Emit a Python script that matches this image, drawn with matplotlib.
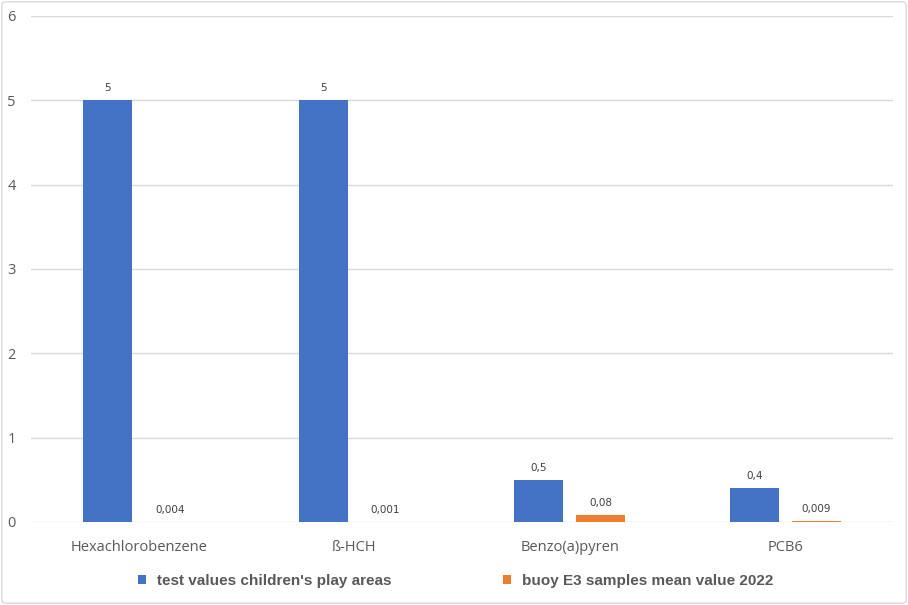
import numpy as np
import matplotlib.pyplot as plt
from matplotlib.patches import FancyBboxPatch

categories = ["Hexachlorobenzene", "ß-HCH", "Benzo(a)pyren", "PCB6"]
test_values = [5, 5, 0.5, 0.4]
buoy_values = [0.004, 0.001, 0.08, 0.009]
test_labels = ["5", "5", "0,5", "0,4"]
buoy_labels = ["0,004", "0,001", "0,08", "0,009"]

blue = "#4472C4"
orange = "#ED7D31"
grey_text = "#595959"

fig = plt.figure(figsize=(9.08, 6.05), dpi=100)
fig.patches.append(FancyBboxPatch((0.002, 0.003), 0.996, 0.994, boxstyle="round,pad=0,rounding_size=0.005",
                                  transform=fig.transFigure, fill=False, ec="#D9D9D9", lw=1))
ax = fig.add_axes([0.0341, 0.1372, 0.9494, 0.8364])

x = np.arange(len(categories))
w = 0.227
off = 0.144
b1 = ax.bar(x - off, test_values, w, color=blue, label="test values children's play areas", zorder=3)
b2 = ax.bar(x + off, buoy_values, w, color=orange, label="buoy E3 samples mean value 2022", zorder=3)

for rect, lab in zip(b1, test_labels):
    ax.annotate(lab, (rect.get_x() + rect.get_width() / 2, rect.get_height()), xytext=(0, 5),
                textcoords="offset points", ha="center", va="bottom", fontsize=7.5, color="#404040")
for rect, lab in zip(b2, buoy_labels):
    ax.annotate(lab, (rect.get_x() + rect.get_width() / 2, rect.get_height()), xytext=(0, 5),
                textcoords="offset points", ha="center", va="bottom", fontsize=7.5, color="#404040")

ax.set_xlim(-0.5, len(categories) - 0.5)
ax.set_ylim(0, 6)
ax.set_yticks(range(7))
ax.grid(axis="y", color="#D9D9D9", lw=1, zorder=0)
ax.set_xticks(x)
ax.set_xticklabels(categories, fontsize=10.5, color=grey_text, family="Open Sans")
ax.tick_params(axis="x", length=0, pad=13)
ax.tick_params(axis="y", length=0, labelsize=10.5, labelcolor=grey_text, pad=11)
for lab in ax.get_yticklabels():
    lab.set_family("Open Sans")
for s in ax.spines.values():
    s.set_visible(False)

leg = fig.legend(loc="center", bbox_to_anchor=(0.502, 0.04), ncol=2, frameon=False,
                 handlelength=0.5, handleheight=0.5, columnspacing=7.3, handletextpad=0.75,
                 prop={"family": "Liberation Sans", "weight": "bold", "size": 11})
for t in leg.get_texts():
    t.set_color(grey_text)

fig.savefig("out.png", dpi=100)
